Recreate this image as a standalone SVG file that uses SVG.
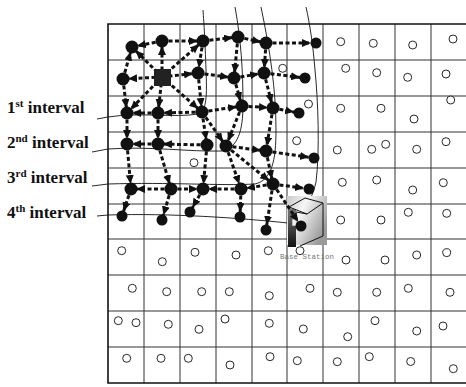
<svg xmlns="http://www.w3.org/2000/svg" width="466" height="387" viewBox="0 0 466 387">
<style>
.g{stroke:#333;stroke-width:1;fill:none}
.gb{stroke:#111;stroke-width:1.6;fill:none}
.e{stroke:#111;stroke-width:3;stroke-dasharray:4 2.5;fill:none;marker-end:url(#ah)}
.n{fill:#111}
.s{fill:#fff;stroke:#111;stroke-width:0.9}
.iv{fill:none;stroke:#111;stroke-width:0.9}
.lbl{font-family:"Liberation Serif","Times New Roman",serif;font-weight:bold;font-size:17px;fill:#111}
.sup{font-size:11px}
.bs{font-family:"Liberation Mono","Courier New",monospace;font-size:7.5px;fill:#777}
</style>
<defs>
<marker id="ah" markerUnits="userSpaceOnUse" markerWidth="20" markerHeight="12" refX="14" refY="4" orient="auto"><path d="M0,0 L9,4 L0,8 z" fill="#111"/></marker>
<linearGradient id="bsg" x1="0" y1="0" x2="1" y2="0.6"><stop offset="0" stop-color="#c8c8c8"/><stop offset="0.4" stop-color="#f6f6f6"/><stop offset="1" stop-color="#9a9a9a"/></linearGradient>
<linearGradient id="bsd" x1="0" y1="0" x2="0" y2="1"><stop offset="0" stop-color="#777"/><stop offset="1" stop-color="#111"/></linearGradient>
</defs>
<rect width="466" height="387" fill="#fff"/>
<g id="grid">
<path class="g" d="M108,60H466M108,96H466M108,132H466M108,168H466M108,204H466M108,239H466M108,275H466M108,311H466M108,347H466M144,24V383M180,24V383M216,24V383M252,24V383M287,24V383M323,24V383M359,24V383M395,24V383M431,24V383"/>
<path class="gb" d="M466,24H108V383H466"/>
</g>
<g id="intervals">
<path class="iv" d="M97,119 L108,117 C140,112 175,118 198,114 C207,111 207,95 206,70 C205,40 204,25 203,10"/>
<path class="iv" d="M92,152 L108,149 C150,146 190,152 222,151 C238,148 243,130 243,105 C243,70 241,40 235,7"/>
<path class="iv" d="M92,186 L108,184 C170,182 220,186 255,184 C272,180 276,160 276,130 C276,90 270,50 261,7"/>
<path class="iv" d="M97,216 L108,215 C170,213 240,218 288,223 C300,216 312,202 316,182 C320,150 318,100 315,70 C313,45 310,25 306,7"/>
</g>
<g id="labels">
<text class="lbl" x="7" y="113">1<tspan class="sup" dy="-6">st</tspan><tspan dy="6"> interval</tspan></text>
<text class="lbl" x="7" y="148">2<tspan class="sup" dy="-6">nd</tspan><tspan dy="6"> interval</tspan></text>
<text class="lbl" x="7" y="183">3<tspan class="sup" dy="-6">rd</tspan><tspan dy="6"> interval</tspan></text>
<text class="lbl" x="7" y="218">4<tspan class="sup" dy="-6">th</tspan><tspan dy="6"> interval</tspan></text>
</g>
<g id="base-station">
<rect x="287" y="196" width="40" height="49" fill="url(#bsg)"/>
<rect x="288" y="209" width="8" height="38" fill="url(#bsd)"/>
<path d="M289,207 L305,198 L323,203 L307,214 Z M323,203 L323,236 L300,246 M296,212 L307,214" fill="none" stroke="#111" stroke-width="1"/>
<rect x="292" y="219" width="5" height="7" fill="#eee" stroke="#555" stroke-width="0.6"/>
<text class="bs" x="280" y="259">Base Station</text>
</g>
<g id="connectors">
<line class="e" x1="162" y1="77" x2="132" y2="47"/>
<line class="e" x1="162" y1="77" x2="162" y2="41"/>
<line class="e" x1="162" y1="77" x2="203" y2="41"/>
<line class="e" x1="162" y1="77" x2="123" y2="79"/>
<line class="e" x1="162" y1="77" x2="198" y2="73"/>
<line class="e" x1="162" y1="77" x2="127" y2="113"/>
<line class="e" x1="162" y1="77" x2="158" y2="113"/>
<line class="e" x1="162" y1="77" x2="202" y2="112"/>
<line class="e" x1="162" y1="41" x2="132" y2="47"/>
<line class="e" x1="162" y1="41" x2="203" y2="41"/>
<line class="e" x1="123" y1="79" x2="132" y2="47"/>
<line class="e" x1="203" y1="41" x2="238" y2="37"/>
<line class="e" x1="238" y1="37" x2="266" y2="43"/>
<line class="e" x1="266" y1="43" x2="316" y2="43"/>
<line class="e" x1="238" y1="37" x2="234" y2="78"/>
<line class="e" x1="266" y1="43" x2="264" y2="73"/>
<line class="e" x1="203" y1="41" x2="198" y2="73"/>
<line class="e" x1="198" y1="73" x2="202" y2="112"/>
<line class="e" x1="198" y1="73" x2="234" y2="78"/>
<line class="e" x1="234" y1="78" x2="264" y2="73"/>
<line class="e" x1="264" y1="73" x2="305" y2="78"/>
<line class="e" x1="264" y1="73" x2="273" y2="108"/>
<line class="e" x1="234" y1="78" x2="242" y2="106"/>
<line class="e" x1="202" y1="112" x2="242" y2="106"/>
<line class="e" x1="242" y1="106" x2="273" y2="108"/>
<line class="e" x1="273" y1="108" x2="299" y2="113"/>
<line class="e" x1="158" y1="113" x2="127" y2="113"/>
<line class="e" x1="202" y1="112" x2="158" y2="113"/>
<line class="e" x1="123" y1="79" x2="127" y2="113"/>
<line class="e" x1="127" y1="113" x2="127" y2="144"/>
<line class="e" x1="158" y1="113" x2="158" y2="144"/>
<line class="e" x1="202" y1="112" x2="207" y2="145"/>
<line class="e" x1="202" y1="112" x2="226" y2="146"/>
<line class="e" x1="242" y1="106" x2="226" y2="146"/>
<line class="e" x1="207" y1="145" x2="158" y2="144"/>
<line class="e" x1="158" y1="144" x2="127" y2="144"/>
<line class="e" x1="226" y1="146" x2="266" y2="151"/>
<line class="e" x1="273" y1="108" x2="266" y2="151"/>
<line class="e" x1="266" y1="151" x2="314" y2="158"/>
<line class="e" x1="226" y1="146" x2="241" y2="189"/>
<line class="e" x1="226" y1="146" x2="273" y2="184"/>
<line class="e" x1="266" y1="151" x2="273" y2="184"/>
<line class="e" x1="127" y1="144" x2="131" y2="189"/>
<line class="e" x1="158" y1="144" x2="171" y2="189"/>
<line class="e" x1="207" y1="145" x2="203" y2="189"/>
<line class="e" x1="171" y1="189" x2="131" y2="189"/>
<line class="e" x1="171" y1="189" x2="203" y2="189"/>
<line class="e" x1="241" y1="189" x2="203" y2="189"/>
<line class="e" x1="273" y1="184" x2="241" y2="189"/>
<line class="e" x1="273" y1="184" x2="309" y2="189"/>
<line class="e" x1="131" y1="189" x2="122" y2="216"/>
<line class="e" x1="171" y1="189" x2="162" y2="220"/>
<line class="e" x1="203" y1="189" x2="190" y2="212"/>
<line class="e" x1="241" y1="189" x2="240" y2="217"/>
<line class="e" x1="273" y1="184" x2="266" y2="230"/>
<line class="e" x1="273" y1="184" x2="301" y2="226"/>
</g>
<g id="nA"><circle class="n" cx="132" cy="47" r="6.5"/></g>
<g id="nB"><circle class="n" cx="162" cy="41" r="6.5"/></g>
<g id="nC"><circle class="n" cx="203" cy="41" r="6.5"/></g>
<g id="nD"><circle class="n" cx="238" cy="37" r="6.5"/></g>
<g id="nE"><circle class="n" cx="266" cy="43" r="6.5"/></g>
<g id="nF"><circle class="n" cx="316" cy="43" r="5.5"/></g>
<g id="nG"><circle class="n" cx="123" cy="79" r="6.5"/></g>
<g id="nH"><rect x="154" y="69" width="17" height="17" fill="#222"/></g>
<g id="nI"><circle class="n" cx="198" cy="73" r="6.5"/></g>
<g id="nJ"><circle class="n" cx="234" cy="78" r="6.5"/></g>
<g id="nK"><circle class="n" cx="264" cy="73" r="6.5"/></g>
<g id="nL"><circle class="n" cx="305" cy="78" r="5.5"/></g>
<g id="nM"><circle class="n" cx="127" cy="113" r="6.5"/></g>
<g id="nN"><circle class="n" cx="158" cy="113" r="6.5"/></g>
<g id="nO"><circle class="n" cx="202" cy="112" r="6.5"/></g>
<g id="nP"><circle class="n" cx="242" cy="106" r="6.5"/></g>
<g id="nQ"><circle class="n" cx="273" cy="108" r="6.5"/></g>
<g id="nR"><circle class="n" cx="299" cy="113" r="5.5"/></g>
<g id="nS"><circle class="n" cx="127" cy="144" r="6.5"/></g>
<g id="nT"><circle class="n" cx="158" cy="144" r="6.5"/></g>
<g id="nU"><circle class="n" cx="207" cy="145" r="6.5"/></g>
<g id="nV"><circle class="n" cx="226" cy="146" r="6.5"/></g>
<g id="nW"><circle class="n" cx="266" cy="151" r="6.5"/></g>
<g id="nX"><circle class="n" cx="314" cy="158" r="5.5"/></g>
<g id="nY"><circle class="n" cx="131" cy="189" r="6.5"/></g>
<g id="nZ"><circle class="n" cx="171" cy="189" r="6.5"/></g>
<g id="nAA"><circle class="n" cx="203" cy="189" r="6.5"/></g>
<g id="nAB"><circle class="n" cx="241" cy="189" r="6.5"/></g>
<g id="nAC"><circle class="n" cx="273" cy="184" r="6.5"/></g>
<g id="nAD"><circle class="n" cx="309" cy="189" r="5.5"/></g>
<g id="t1"><circle class="n" cx="122" cy="216" r="5.5"/></g>
<g id="t2"><circle class="n" cx="162" cy="220" r="5.5"/></g>
<g id="t3"><circle class="n" cx="190" cy="212" r="5.5"/></g>
<g id="t4"><circle class="n" cx="240" cy="217" r="5.5"/></g>
<g id="t5"><circle class="n" cx="266" cy="230" r="5.5"/></g>
<g id="t6"><circle class="n" cx="301" cy="226" r="5.5"/></g>
<g id="sensors">
<g id="s1"><circle class="s" cx="340.7" cy="41.7" r="4"/></g>
<g id="s2"><circle class="s" cx="373.3" cy="43.3" r="4"/></g>
<g id="s3"><circle class="s" cx="412.7" cy="45" r="4"/></g>
<g id="s4"><circle class="s" cx="453" cy="39" r="4"/></g>
<g id="s5"><circle class="s" cx="282.7" cy="68.3" r="4"/></g>
<g id="s6"><circle class="s" cx="345.7" cy="68.3" r="4"/></g>
<g id="s7"><circle class="s" cx="376.7" cy="72.7" r="4"/></g>
<g id="s8"><circle class="s" cx="407.7" cy="77.3" r="4"/></g>
<g id="s9"><circle class="s" cx="446" cy="74" r="4"/></g>
<g id="s10"><circle class="s" cx="308.5" cy="104" r="4"/></g>
<g id="s11"><circle class="s" cx="340.7" cy="108.3" r="4"/></g>
<g id="s12"><circle class="s" cx="381" cy="108.3" r="4"/></g>
<g id="s13"><circle class="s" cx="414" cy="119" r="4"/></g>
<g id="s14"><circle class="s" cx="450.7" cy="100" r="4"/></g>
<g id="s15"><circle class="s" cx="296.7" cy="140.7" r="4"/></g>
<g id="s16"><circle class="s" cx="194" cy="162.7" r="4"/></g>
<g id="s17"><circle class="s" cx="337.3" cy="150" r="4"/></g>
<g id="s18"><circle class="s" cx="371.7" cy="149.3" r="4"/></g>
<g id="s19"><circle class="s" cx="385.7" cy="144.3" r="4"/></g>
<g id="s20"><circle class="s" cx="416.7" cy="149.3" r="4"/></g>
<g id="s21"><circle class="s" cx="446" cy="141.7" r="4"/></g>
<g id="s22"><circle class="s" cx="342.3" cy="182.3" r="4"/></g>
<g id="s23"><circle class="s" cx="376.7" cy="180" r="4"/></g>
<g id="s24"><circle class="s" cx="412.7" cy="190" r="4"/></g>
<g id="s25"><circle class="s" cx="443.3" cy="182.7" r="4"/></g>
<g id="s26"><circle class="s" cx="340.7" cy="220" r="4"/></g>
<g id="s27"><circle class="s" cx="381" cy="220" r="4"/></g>
<g id="s28"><circle class="s" cx="408.3" cy="212.3" r="4"/></g>
<g id="s29"><circle class="s" cx="446.7" cy="213.3" r="4"/></g>
<g id="s30"><circle class="s" cx="121.7" cy="250.7" r="4"/></g>
<g id="s31"><circle class="s" cx="162.3" cy="261.7" r="4"/></g>
<g id="s32"><circle class="s" cx="195" cy="252.3" r="4"/></g>
<g id="s33"><circle class="s" cx="236" cy="255" r="4"/></g>
<g id="s34"><circle class="s" cx="268.3" cy="250.7" r="4"/></g>
<g id="s35"><circle class="s" cx="300" cy="250.7" r="4"/></g>
<g id="s36"><circle class="s" cx="346" cy="260" r="4"/></g>
<g id="s37"><circle class="s" cx="385" cy="260" r="4"/></g>
<g id="s38"><circle class="s" cx="416.7" cy="255" r="4"/></g>
<g id="s39"><circle class="s" cx="446.7" cy="252.7" r="4"/></g>
<g id="s40"><circle class="s" cx="132.3" cy="288.3" r="4"/></g>
<g id="s41"><circle class="s" cx="166.7" cy="291.7" r="4"/></g>
<g id="s42"><circle class="s" cx="201.7" cy="291.7" r="4"/></g>
<g id="s43"><circle class="s" cx="229.3" cy="291.7" r="4"/></g>
<g id="s44"><circle class="s" cx="269.3" cy="295.7" r="4"/></g>
<g id="s45"><circle class="s" cx="310" cy="288.3" r="4"/></g>
<g id="s46"><circle class="s" cx="337.3" cy="292.3" r="4"/></g>
<g id="s47"><circle class="s" cx="376.7" cy="292.3" r="4"/></g>
<g id="s48"><circle class="s" cx="408.3" cy="288.3" r="4"/></g>
<g id="s49"><circle class="s" cx="450" cy="292.3" r="4"/></g>
<g id="s50"><circle class="s" cx="118.3" cy="320.7" r="4"/></g>
<g id="s51"><circle class="s" cx="136" cy="322.7" r="4"/></g>
<g id="s52"><circle class="s" cx="168.3" cy="324.3" r="4"/></g>
<g id="s53"><circle class="s" cx="199" cy="329.3" r="4"/></g>
<g id="s54"><circle class="s" cx="225" cy="319" r="4"/></g>
<g id="s55"><circle class="s" cx="269.3" cy="323.3" r="4"/></g>
<g id="s56"><circle class="s" cx="303.3" cy="329" r="4"/></g>
<g id="s57"><circle class="s" cx="347.7" cy="336.7" r="4"/></g>
<g id="s58"><circle class="s" cx="375" cy="320.7" r="4"/></g>
<g id="s59"><circle class="s" cx="416.7" cy="331" r="4"/></g>
<g id="s60"><circle class="s" cx="443" cy="326" r="4"/></g>
<g id="s61"><circle class="s" cx="126.7" cy="358.3" r="4"/></g>
<g id="s62"><circle class="s" cx="161" cy="358.3" r="4"/></g>
<g id="s63"><circle class="s" cx="188.3" cy="358.3" r="4"/></g>
<g id="s64"><circle class="s" cx="230" cy="365" r="4"/></g>
<g id="s65"><circle class="s" cx="270" cy="356.7" r="4"/></g>
<g id="s66"><circle class="s" cx="297.3" cy="360.7" r="4"/></g>
<g id="s67"><circle class="s" cx="337.3" cy="361.7" r="4"/></g>
<g id="s68"><circle class="s" cx="369.3" cy="356.7" r="4"/></g>
<g id="s69"><circle class="s" cx="410.7" cy="361.5" r="4"/></g>
<g id="s70"><circle class="s" cx="453.3" cy="368.7" r="4"/></g>
</g>
</svg>
